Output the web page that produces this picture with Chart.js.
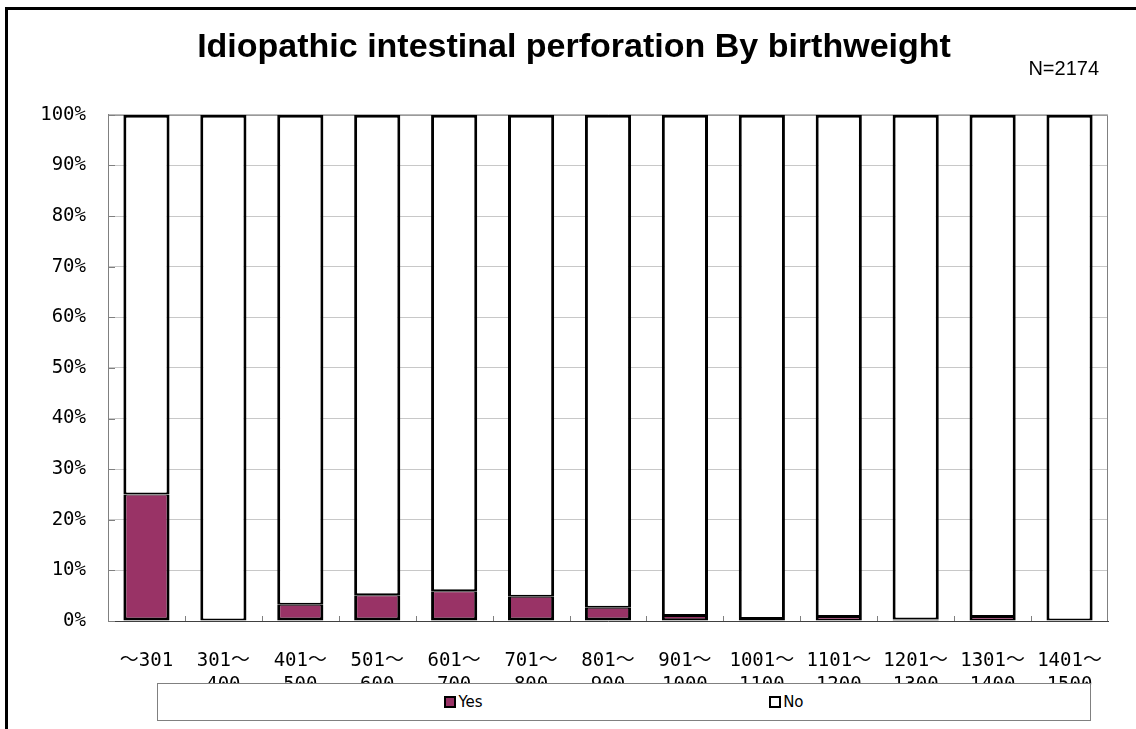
<!DOCTYPE html>
<html>
<head>
<meta charset="utf-8">
<title>Idiopathic intestinal perforation By birthweight</title>
<script src="https://cdn.jsdelivr.net/npm/chart.js@4/dist/chart.umd.min.js"></script>
<style>
    html, body { margin: 0; padding: 0; background: #fff; overflow: hidden; }
    #wrap { position: relative; width: 1136px; height: 729px; overflow: hidden; }
    #frame { position: absolute; left: 5px; top: 7px; width: 1200px; height: 800px; border: 3px solid #000; box-sizing: border-box; }
    #chart { position: absolute; left: 0; top: 0; }
    #legend {
        position: absolute; left: 157px; top: 683px; width: 934px; height: 38px;
        box-sizing: border-box; border: 1px solid #808080; background: #fff;
        display: flex; justify-content: space-evenly; align-items: center;
        font-family: 'DejaVu Sans', sans-serif; font-size: 15px; color: #000;
    }
    .legend-item { display: flex; align-items: center; }
    .legend-box { width: 12px; height: 12px; box-sizing: border-box; border: 2px solid #000; margin-right: 2px; }
</style>
</head>
<body>
<div id="wrap">
    <div id="frame"></div>
    <canvas id="chart" width="1136" height="729"></canvas>
    <div id="legend"></div>
</div>
<script>
// Birthweight groups (g), two-line labels
const weightGroups = [
    ['～301'], ['301～', '400'], ['401～', '500'], ['501～', '600'], ['601～', '700'],
    ['701～', '800'], ['801～', '900'], ['901～', '1000'], ['1001～', '1100'],
    ['1101～', '1200'], ['1201～', '1300'], ['1301～', '1400'], ['1401～', '1500']
];

// Share of cases per group (%)
const yesPct = [25.0, 0.0, 3.2, 5.1, 5.9, 4.8, 2.6, 1.0, 0.4, 0.8, 0.3, 0.8, 0.0];
const noPct = [75.0, 100.0, 96.8, 94.9, 94.1, 95.2, 97.4, 99.0, 99.6, 99.2, 99.7, 99.2, 100.0];

const yTicks = [0, 10, 20, 30, 40, 50, 60, 70, 80, 90, 100];
const totalCases = 'N=2174';

const tickFont = { family: "'DejaVu Sans Mono', 'Noto Sans CJK JP', monospace", size: 19 };

// Plot frame, short inward tick marks and the N note
const axisMarks = {
    id: 'axisMarks',
    beforeDatasetsDraw(chart) {
        const { ctx, chartArea: a, scales: { x, y } } = chart;
        ctx.save();
        ctx.strokeStyle = '#808080';
        ctx.lineWidth = 1;
        ctx.beginPath();
        ctx.moveTo(a.left, a.top + 0.5);
        ctx.lineTo(a.right - 0.5, a.top + 0.5);
        ctx.lineTo(a.right - 0.5, a.bottom);
        ctx.stroke();

        ctx.beginPath();
        y.ticks.forEach((t, i) => {
            const py = Math.round(y.getPixelForTick(i)) + 0.5;
            ctx.moveTo(a.left, py);
            ctx.lineTo(a.left + 7, py);
        });
        for (let i = 1; i < x.ticks.length; i++) {
            const px = Math.round((x.getPixelForTick(i - 1) + x.getPixelForTick(i)) / 2) + 0.5;
            ctx.moveTo(px, a.bottom);
            ctx.lineTo(px, a.bottom - 5);
        }
        ctx.stroke();
        ctx.restore();
    },
    afterDraw(chart) {
        const ctx = chart.ctx;
        ctx.save();
        ctx.font = "20px 'Liberation Sans', Arial, sans-serif";
        ctx.fillStyle = '#000';
        ctx.textAlign = 'right';
        ctx.textBaseline = 'middle';
        ctx.fillText(totalCases, 1099, 69);
        ctx.restore();
    }
};

const chart = new Chart(document.getElementById('chart'), {
    type: 'bar',
    data: {
        labels: weightGroups,
        datasets: [{
            label: 'Yes',
            data: yesPct,
            backgroundColor: '#993366',
            borderColor: '#000',
            borderWidth: { top: 1, left: 3, right: 3, bottom: 3 },
            borderSkipped: false
        }, {
            label: 'No',
            data: noPct,
            backgroundColor: '#fff',
            borderColor: '#000',
            borderWidth: { top: 3, left: 3, right: 3, bottom: 2 },
            borderSkipped: false
        }]
    },
    options: {
        responsive: false,
        animation: false,
        layout: { padding: { top: 10, left: 40, right: 28, bottom: 0 } },
        datasets: { bar: { categoryPercentage: 1, barPercentage: 0.6 } },
        plugins: {
            legend: { display: false },
            tooltip: { enabled: false },
            title: {
                display: true,
                text: 'Idiopathic intestinal perforation By birthweight',
                color: '#000',
                font: { family: "'Liberation Sans', Arial, sans-serif", size: 34, weight: 'bold' },
                padding: { top: 17, bottom: 47 }
            }
        },
        scales: {
            x: {
                stacked: true,
                grid: { display: false },
                border: { display: true, color: '#404040', width: 1 },
                ticks: {
                    color: '#000', font: { ...tickFont, lineHeight: 1.25 },
                    padding: 20, maxRotation: 0, autoSkip: false
                },
                afterFit(scale) { scale.height = 108; }
            },
            y: {
                stacked: true,
                min: 0,
                max: 100,
                afterBuildTicks(scale) { scale.ticks = yTicks.map(v => ({ value: v })); },
                grid: { color: '#c8c8c8', drawTicks: false },
                border: { display: true, color: '#808080', width: 1 },
                ticks: {
                    color: '#000', font: tickFont, padding: 22,
                    callback: v => v + '%'
                },
                afterFit(scale) { scale.width = 68; }
            }
        }
    },
    plugins: [axisMarks]
});

// Legend strip under the plot
const legendEl = document.getElementById('legend');
chart.data.datasets.forEach(ds => {
    const item = document.createElement('div');
    item.className = 'legend-item';
    const box = document.createElement('span');
    box.className = 'legend-box';
    box.style.background = ds.backgroundColor;
    const text = document.createElement('span');
    text.textContent = ds.label;
    item.appendChild(box);
    item.appendChild(text);
    legendEl.appendChild(item);
});
</script>
</body>
</html>
